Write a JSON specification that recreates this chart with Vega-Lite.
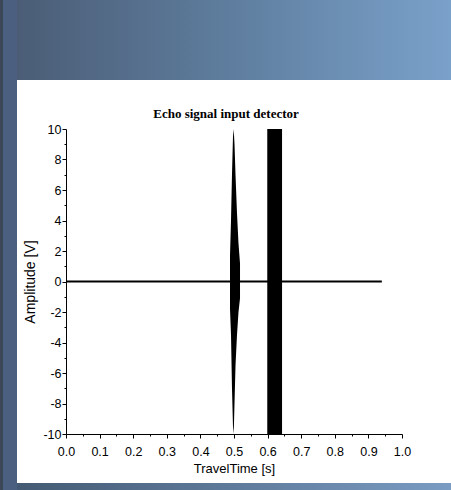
{
  "$schema": "https://vega.github.io/schema/vega-lite/v6.json",
  "padding": 0,
  "background": "white",
  "config": {"view": {"stroke": null}, "concat": {"spacing": 0}},
  "datasets": {
    "frame": [{"part": "slide frame"}],
    "baseline": [{"t": 0, "amp": 0}, {"t": 0.94, "amp": 0}],
    "pulses": [
      {"pulse": "echo 1", "t": 0.4881, "hi": 1.7, "lo": -1.8},
      {"pulse": "echo 1", "t": 0.4911, "hi": 4.0, "lo": -3.5},
      {"pulse": "echo 1", "t": 0.4940, "hi": 7.0, "lo": -7.0},
      {"pulse": "echo 1", "t": 0.4970, "hi": 9.5, "lo": -9.5},
      {"pulse": "echo 1", "t": 0.4991, "hi": 10.0, "lo": -10.0},
      {"pulse": "echo 1", "t": 0.5015, "hi": 9.0, "lo": -8.0},
      {"pulse": "echo 1", "t": 0.5045, "hi": 7.0, "lo": -5.5},
      {"pulse": "echo 1", "t": 0.5089, "hi": 4.5, "lo": -3.5},
      {"pulse": "echo 1", "t": 0.5134, "hi": 2.5, "lo": -2.0},
      {"pulse": "echo 1", "t": 0.5179, "hi": 1.2, "lo": -1.1},
      {"pulse": "echo 2", "t": 0.599, "hi": 10.0, "lo": -10.0},
      {"pulse": "echo 2", "t": 0.643, "hi": 10.0, "lo": -10.0}
    ]
  },
  "bounds": "flush",
  "hconcat": [
    {
      "width": 17,
      "height": 490,
      "data": {"name": "frame"},
      "mark": {
        "type": "rect",
        "color": {
          "gradient": "linear", "x1": 0, "y1": 0, "x2": 1, "y2": 0,
          "stops": [
            {"offset": 0, "color": "#3b4757"},
            {"offset": 0.16, "color": "#3b4757"},
            {"offset": 0.2, "color": "#4b6080"},
            {"offset": 1, "color": "#4b6080"}
          ]
        }
      },
      "encoding": {}
    },
    {
      "bounds": "flush",
      "center": true,
      "spacing": 49,
      "vconcat": [
        {
          "width": 434,
          "height": 80,
          "data": {"name": "frame"},
          "mark": {
            "type": "rect",
            "color": {
              "gradient": "linear", "x1": 0, "y1": 0, "x2": 1, "y2": 0,
              "stops": [
                {"offset": 0, "color": "#4b5d76"},
                {"offset": 0.5, "color": "#5f7e9f"},
                {"offset": 1, "color": "#7aa1ca"}
              ]
            }
          },
          "encoding": {}
        },
        {
          "width": 336,
          "height": 305,
          "title": {
            "text": "Echo signal input detector",
            "font": "Liberation Serif",
            "fontSize": 13,
            "fontWeight": "bold",
            "color": "black",
            "offset": 2,
            "dx": -8
          },
          "layer": [
            {
              "data": {"name": "baseline"},
              "mark": {"type": "line", "color": "black", "strokeWidth": 2},
              "encoding": {
                "x": {
                  "field": "t", "type": "quantitative",
                  "scale": {"domain": [0, 1], "nice": false},
                  "axis": {
                    "title": "TravelTime [s]",
                    "values": [0, 0.05, 0.1, 0.15, 0.2, 0.25, 0.3, 0.35, 0.4, 0.45, 0.5, 0.55, 0.6, 0.65, 0.7, 0.75, 0.8, 0.85, 0.9, 0.95, 1],
                    "tickCount": 200,
                    "labelExpr": "abs(datum.value*10 - round(datum.value*10)) < 0.001 ? format(datum.value, '.1f') : ''",
                    "tickSize": {"condition": {"test": "abs(datum.value*10 - round(datum.value*10)) < 0.001", "value": 4}, "value": 2},
                    "grid": false,
                    "domainColor": "black",
                    "tickColor": "black",
                    "labelColor": "black",
                    "labelFont": "Liberation Sans",
                    "labelFontSize": 12.5,
                    "labelPadding": 7,
                    "labelOverlap": false,
                    "labelFlush": false,
                    "labelBound": false,
                    "titleFont": "Liberation Sans",
                    "titleFontSize": 13,
                    "titleFontWeight": "normal",
                    "titleColor": "black",
                    "titlePadding": 5
                  }
                },
                "y": {
                  "field": "amp", "type": "quantitative",
                  "scale": {"domain": [-10, 10], "nice": false},
                  "axis": {
                    "title": "Amplitude [V]",
                    "values": [-10, -9, -8, -7, -6, -5, -4, -3, -2, -1, 0, 1, 2, 3, 4, 5, 6, 7, 8, 9, 10],
                    "tickCount": 200,
                    "labelExpr": "datum.value % 2 == 0 ? '' + datum.value : ''",
                    "tickSize": {"condition": {"test": "datum.value % 2 == 0", "value": 4}, "value": 2},
                    "grid": false,
                    "domainColor": "black",
                    "tickColor": "black",
                    "labelColor": "black",
                    "labelFont": "Liberation Sans",
                    "labelFontSize": 12.5,
                    "labelPadding": 1,
                    "labelOverlap": false,
                    "labelFlush": false,
                    "labelBound": false,
                    "titleFont": "Liberation Sans",
                    "titleFontSize": 14,
                    "titleFontWeight": "normal",
                    "titleColor": "black",
                    "titlePadding": 5
                  }
                }
              }
            },
            {
              "data": {"name": "pulses"},
              "mark": {"type": "area", "color": "black", "opacity": 1},
              "encoding": {
                "x": {"field": "t", "type": "quantitative"},
                "y": {"field": "hi", "type": "quantitative"},
                "y2": {"field": "lo"},
                "detail": {"field": "pulse", "type": "nominal"}
              }
            }
          ]
        },
        {
          "width": 434,
          "height": 7,
          "data": {"name": "frame"},
          "mark": {
            "type": "rect",
            "color": {
              "gradient": "linear", "x1": 0, "y1": 0, "x2": 1, "y2": 0,
              "stops": [
                {"offset": 0, "color": "#445a74"},
                {"offset": 1, "color": "#7a9cc2"}
              ]
            }
          },
          "encoding": {}
        }
      ]
    }
  ]
}
